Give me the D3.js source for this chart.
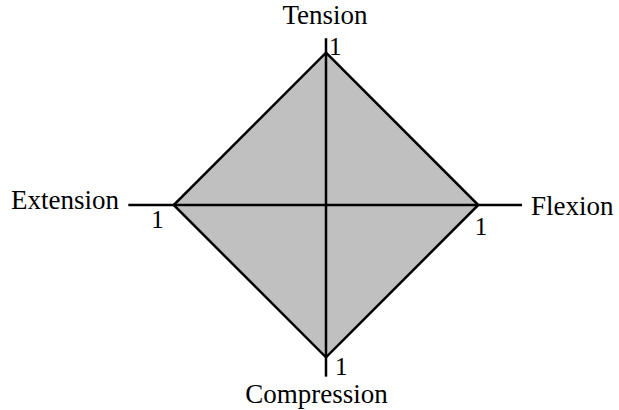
<!DOCTYPE html>
<html>
<head>
<meta charset="utf-8">
<script src="https://cdn.jsdelivr.net/npm/d3@7"></script>
<style>
  body { margin: 0; background: #fff; }
  text { font-family: "Liberation Serif", "Times New Roman", serif; fill: #000; }
</style>
</head>
<body>
<div id="viz-container"></div>
<script>
let width = 619;
let height = 410;

// data
let axes = ['Tension', 'Flexion', 'Compression', 'Extension'];
let values = [1, 1, 1, 1];
let axisReach = [1.095, 1.287, 1.127, 1.298]; // how far each axis line runs
let tickLabel = '1';

// layout (not data)
let cx = 326, cy = 205;
let angles = [-Math.PI / 2, 0, Math.PI / 2, Math.PI]; // up, right, down, left
let nameLayout = [
  {x: 325, y: 24, anchor: 'middle'},
  {x: 531, y: 215, anchor: 'start'},
  {x: 316.5, y: 403, anchor: 'middle'},
  {x: 119, y: 209, anchor: 'end'}
];
let tickOffset = [
  {dx: 3, dy: 2.5},
  {dx: -3.5, dy: 29.5},
  {dx: 9, dy: 18},
  {dx: -22.5, dy: 23}
];

let viz = d3.select('#viz-container')
  .append('svg')
  .attr('width', width)
  .attr('height', height);

let rScale = d3.scaleLinear().domain([0, 1]).range([0, 152.3]);

function px(v, i) { return cx + Math.cos(angles[i]) * rScale(v); }
function py(v, i) { return cy + Math.sin(angles[i]) * rScale(v); }

// filled polygon
let points = values.map((v, i) => [px(v, i), py(v, i)]);
viz.append('path')
  .attr('d', d3.line().curve(d3.curveLinearClosed)(points))
  .attr('fill', '#c0c0c0')
  .attr('stroke', '#000')
  .attr('stroke-width', 2.5)
  .attr('stroke-linejoin', 'miter');

// axis lines
viz.selectAll('.axisLine').data(axes).enter()
  .append('line')
  .attr('class', 'axisLine')
  .attr('x1', (d, i) => px(0, i))
  .attr('y1', (d, i) => py(0, i))
  .attr('x2', (d, i) => px(axisReach[i], i))
  .attr('y2', (d, i) => py(axisReach[i], i))
  .attr('stroke', '#000')
  .attr('stroke-width', 2.5);

// axis names
viz.selectAll('.axisName').data(axes).enter()
  .append('text')
  .attr('class', 'axisName')
  .text(d => d)
  .attr('x', (d, i) => nameLayout[i].x)
  .attr('y', (d, i) => nameLayout[i].y)
  .attr('text-anchor', (d, i) => nameLayout[i].anchor)
  .attr('font-size', 27);

// tick labels at value 1
viz.selectAll('.tickText').data(values).enter()
  .append('text')
  .attr('class', 'tickText')
  .text(tickLabel)
  .attr('x', (d, i) => px(1, i) + tickOffset[i].dx)
  .attr('y', (d, i) => py(1, i) + tickOffset[i].dy)
  .attr('font-size', 25);
</script>
</body>
</html>
